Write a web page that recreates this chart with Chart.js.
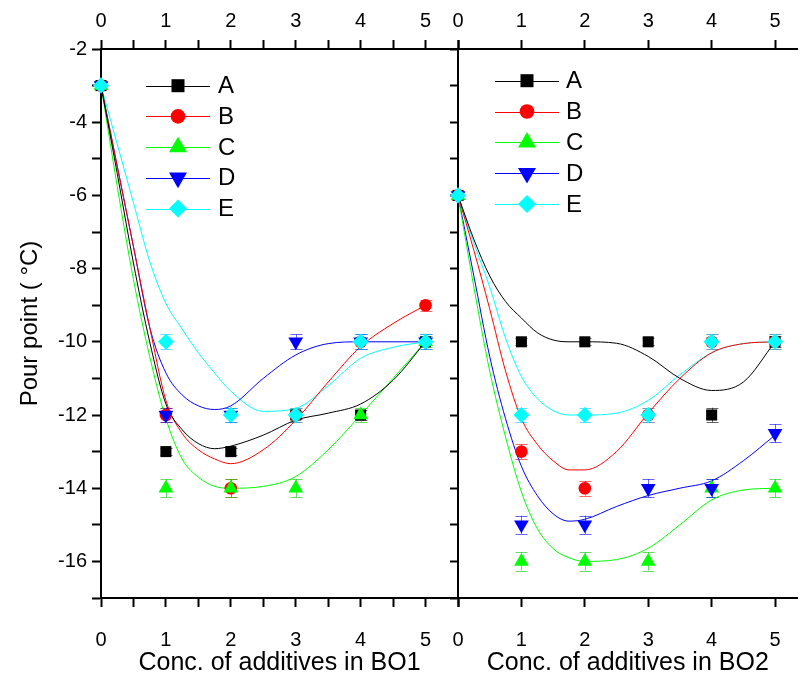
<!DOCTYPE html>
<html>
<head>
<meta charset="utf-8">
<script src="https://cdn.jsdelivr.net/npm/chart.js@4.4.0/dist/chart.umd.min.js"></script>
<style>
    body { margin: 0; background: #fff; width: 806px; height: 680px; overflow: hidden; position: relative; }
    #c1 { position: absolute; left: 0; top: 0; }
    #c2 { position: absolute; left: 448px; top: 0; }
</style>
</head>
<body>
<canvas id="c1" width="470" height="680" style="width:470px;height:680px"></canvas>
<canvas id="c2" width="358" height="680" style="width:358px;height:680px"></canvas>
<script>
// =======================
// Dados
// =======================
const seriesNames = ["A", "B", "C", "D", "E"];
const seriesColors = ["#000000", "#ff0000", "#00ff00", "#0000ff", "#00ffff"];
const errColors = ["rgba(0,0,0,0.6)", "rgba(255,0,0,0.6)", "rgba(0,200,0,0.6)", "rgba(0,0,255,0.6)", "rgba(0,200,255,0.6)"];

const conc = [0, 1, 2, 3, 4, 5];
const fitX = [0, 0.25, 0.5, 0.75, 1, 1.25, 1.5, 1.75, 2, 2.5, 3, 3.5, 4, 4.5, 5];

const xTicksBO1 = [0, 0.5, 1, 1.5, 2, 2.5, 3, 3.5, 4, 4.5, 5, 5.5];
const xTicksBO2 = [0, 1, 2, 3, 4, 5];
const yTicks = [-17, -16, -15, -14, -13, -12, -11, -10, -9, -8, -7, -6, -5, -4, -3, -2];

// BO1 - pontos medidos
const bo1A = [-3, -13, -13, -12, -12, -10];
const bo1B = [-3, -12, -14, -12, -10, -9];
const bo1C = [-3, -14, -14, -14, -12, -10];
const bo1D = [-3, -12, -12, -10, -10, -10];
const bo1E = [-3, -10, -12, -12, -10, -10];
// BO1 - barras de erro
const bo1ErrA = [0.1, 0.1, 0.1, 0.1, 0.15, 0.1];
const bo1ErrB = [0.1, 0.2, 0.25, 0.2, 0.2, 0.15];
const bo1ErrC = [0.1, 0.25, 0.25, 0.25, 0.2, 0.15];
const bo1ErrD = [0.1, 0.2, 0.2, 0.2, 0.2, 0.2];
const bo1ErrE = [0.1, 0.2, 0.2, 0.2, 0.2, 0.2];
// BO1 - curvas ajustadas
const bo1FitA = [-3, -5.4, -7.85, -10.0, -11.7, -12.4, -12.78, -12.92, -12.85, -12.55, -12.14, -11.95, -11.7, -11.05, -10];
const bo1FitB = [-3, -5.2, -7.4, -9.6, -11.6, -12.5, -12.95, -13.2, -13.33, -12.95, -12.14, -11.1, -10.13, -9.5, -9];
const bo1FitC = [-3, -5.75, -8.3, -10.4, -12.1, -13.2, -13.7, -13.95, -14.0, -13.95, -13.68, -12.95, -12, -11.0, -10];
const bo1FitD = [-3, -5.2, -7.4, -9.6, -10.85, -11.45, -11.75, -11.85, -11.75, -11.0, -10.36, -10.05, -10, -10, -10];
const bo1FitE = [-3, -4.6, -6.2, -7.8, -8.95, -9.65, -10.3, -10.85, -11.35, -11.9, -11.82, -11.2, -10.45, -10.15, -10];

// BO2 - pontos medidos
const bo2A = [-6, -10, -10, -10, -12, -10];
const bo2B = [-6, -13, -14, -12, -10, -10];
const bo2C = [-6, -16, -16, -16, -14, -14];
const bo2D = [-6, -15, -15, -14, -14, -12.5];
const bo2E = [-6, -12, -12, -12, -10, -10];
// BO2 - barras de erro
const bo2ErrA = [0.1, 0.1, 0.1, 0.1, 0.2, 0.15];
const bo2ErrB = [0.1, 0.2, 0.2, 0.2, 0.2, 0.2];
const bo2ErrC = [0.1, 0.25, 0.25, 0.25, 0.25, 0.25];
const bo2ErrD = [0.1, 0.25, 0.25, 0.25, 0.25, 0.25];
const bo2ErrE = [0.1, 0.2, 0.2, 0.2, 0.2, 0.2];
// BO2 - curvas ajustadas
const bo2FitA = [-6, -7.2, -8.2, -8.9, -9.35, -9.75, -9.95, -10.0, -10.0, -10.04, -10.4, -11.0, -11.33, -11.1, -10];
const bo2FitB = [-6, -7.5, -9.1, -10.8, -12.1, -12.8, -13.25, -13.5, -13.5, -13.0, -11.95, -11.0, -10.3, -10.05, -10];
const bo2FitC = [-6, -8.5, -10.8, -12.6, -14.1, -15.1, -15.65, -15.9, -16.0, -15.95, -15.64, -15.0, -14.32, -14.05, -14];
const bo2FitD = [-6, -8.2, -10.4, -12.1, -13.4, -14.2, -14.7, -14.9, -14.85, -14.5, -14.2, -14.0, -13.8, -13.25, -12.55];
const bo2FitE = [-6, -7.3, -8.5, -9.9, -10.95, -11.55, -11.88, -12.0, -12.0, -11.95, -11.6, -10.9, -10.3, -10.05, -10];

// =======================
// Estilos
// =======================
const FONT = "'Liberation Sans', Arial, sans-serif";
Chart.defaults.font.family = FONT;
Chart.defaults.color = "#000";

const markers = [
    { style: "rect", r: 7.8, lr: 9.2, rot: 0 },
    { style: "circle", r: 6.3, lr: 7.3, rot: 0 },
    { style: "triangle", r: 8.5, lr: 10.4, rot: 0 },
    { style: "triangle", r: 8.5, lr: 10.4, rot: 180 },
    { style: "rectRot", r: 8, lr: 9, rot: 0 }
];

function buildDatasets(points, errs, fits) {
    const ds = [];
    // curvas (ficam por baixo)
    fits.forEach((f, i) => {
        ds.push({
            label: seriesNames[i] + " fit",
            data: fitX.map((x, j) => ({ x: x, y: f[j] })),
            borderColor: seriesColors[i],
            borderWidth: 1,
            pointRadius: 0,
            cubicInterpolationMode: "monotone",
            fill: false,
            order: 20
        });
    });
    // pontos com marcador
    points.forEach((p, i) => {
        ds.push({
            label: seriesNames[i],
            data: conc.map((x, j) => ({ x: x, y: p[j] })),
            errors: errs[i],
            errColor: errColors[i],
            showLine: false,
            pointStyle: markers[i].style,
            pointRadius: markers[i].r,
            pointRotation: markers[i].rot,
            backgroundColor: seriesColors[i],
            borderColor: seriesColors[i],
            borderWidth: 0,
            clip: false,
            order: 5 - i
        });
    });
    return ds;
}

// barras de erro desenhadas com as escalas do Chart.js
const errorBars = {
    id: "errorBars",
    beforeDatasetsDraw(chart) {
        const ctx = chart.ctx;
        const y = chart.scales.y;
        ctx.save();
        ctx.lineWidth = 1;
        chart.data.datasets.forEach((ds, i) => {
            if (!ds.errors) return;
            const meta = chart.getDatasetMeta(i);
            ctx.strokeStyle = ds.errColor;
            meta.data.forEach((pt, j) => {
                const e = ds.errors[j];
                const v = ds.data[j].y;
                const top = y.getPixelForValue(v + e);
                const bot = y.getPixelForValue(v - e);
                const px = Math.round(pt.x) + 0.5;
                ctx.beginPath();
                ctx.moveTo(px, top); ctx.lineTo(px, bot);
                ctx.moveTo(px - 6, Math.round(top) + 0.5); ctx.lineTo(px + 6, Math.round(top) + 0.5);
                ctx.moveTo(px - 6, Math.round(bot) + 0.5); ctx.lineTo(px + 6, Math.round(bot) + 0.5);
                ctx.stroke();
            });
        });
        ctx.restore();
    }
};

// legenda no estilo do Origin (linha + marcador + letra)
const seriesLegend = {
    id: "seriesLegend",
    afterDraw(chart, args, opts) {
        const ctx = chart.ctx;
        ctx.save();
        ctx.font = "24px " + FONT;
        ctx.textBaseline = "middle";
        seriesNames.forEach((name, i) => {
            const yy = opts.y0 + i * opts.dy;
            ctx.strokeStyle = seriesColors[i];
            ctx.lineWidth = 1;
            ctx.beginPath();
            ctx.moveTo(opts.x1, Math.round(yy) + 0.5);
            ctx.lineTo(opts.x2, Math.round(yy) + 0.5);
            ctx.stroke();
            ctx.fillStyle = seriesColors[i];
            Chart.helpers.drawPoint(ctx, {
                pointStyle: markers[i].style,
                radius: markers[i].lr,
                rotation: markers[i].rot,
                borderWidth: 0
            }, (opts.x1 + opts.x2) / 2, yy);
            ctx.fillStyle = "#000";
            ctx.fillText(name, opts.tx, yy + 1);
        });
        ctx.restore();
    }
};

function xAxis(pos, ticksArr, max, title, h) {
    const axis = {
        type: "linear",
        position: pos,
        min: 0,
        max: max,
        afterBuildTicks: s => { s.ticks = ticksArr.map(v => ({ value: v })); },
        // altura fixa e sem o recuo lateral que o Chart.js põe por causa do padding
        afterFit: s => { s.height = h; s.paddingLeft = 0; s.paddingRight = 0; },
        ticks: {
            autoSkip: false,
            maxRotation: 0,
            padding: pos === "top" ? 7 : 21,
            font: { size: 20 },
            color: "#000",
            callback: v => Number.isInteger(v) ? String(v) : ""
        },
        grid: { drawOnChartArea: false, tickLength: 9, tickWidth: 2, color: "#000" },
        border: { color: "#000", width: 2 }
    };
    if (title) {
        axis.title = { display: true, text: title, font: { size: 25 }, color: "#000", padding: { top: 0, bottom: 2 } };
    }
    return axis;
}

// =======================
// Painel BO1
// =======================
new Chart(document.getElementById("c1"), {
    type: "line",
    data: {
        datasets: buildDatasets(
            [bo1A, bo1B, bo1C, bo1D, bo1E],
            [bo1ErrA, bo1ErrB, bo1ErrC, bo1ErrD, bo1ErrE],
            [bo1FitA, bo1FitB, bo1FitC, bo1FitD, bo1FitE]
        )
    },
    options: {
        responsive: false,
        animation: false,
        layout: { padding: { top: 0, right: 12, bottom: 0, left: 0 } },
        plugins: {
            legend: { display: false },
            tooltip: { enabled: false },
            seriesLegend: { x1: 146, x2: 210, tx: 218, y0: 85.7, dy: 30.7 }
        },
        scales: {
            x: xAxis("bottom", xTicksBO1, 5.5, "Conc. of additives in BO1", 82),
            x2: xAxis("top", xTicksBO1, 5.5, null, 49),
            y: {
                type: "linear",
                position: "left",
                min: -17,
                max: -2,
                afterBuildTicks: s => { s.ticks = yTicks.map(v => ({ value: v })); },
                afterFit: s => { s.width = 101; s.paddingTop = 0; s.paddingBottom = 0; },
                ticks: {
                    padding: 5,
                    font: { size: 20 },
                    color: "#000",
                    callback: v => (v % 2 === 0) ? String(v) : ""
                },
                grid: { drawOnChartArea: false, tickLength: 9, tickWidth: 2, color: "#000" },
                border: { color: "#000", width: 2 },
                title: { display: true, text: "Pour point ( °C)", font: { size: 24 }, color: "#000", padding: { top: 16, bottom: 0 } }
            }
        }
    },
    plugins: [errorBars, seriesLegend]
});

// =======================
// Painel BO2
// =======================
new Chart(document.getElementById("c2"), {
    type: "line",
    data: {
        datasets: buildDatasets(
            [bo2A, bo2B, bo2C, bo2D, bo2E],
            [bo2ErrA, bo2ErrB, bo2ErrC, bo2ErrD, bo2ErrE],
            [bo2FitA, bo2FitB, bo2FitC, bo2FitD, bo2FitE]
        )
    },
    options: {
        responsive: false,
        animation: false,
        layout: { padding: 0 },
        plugins: {
            legend: { display: false },
            tooltip: { enabled: false },
            seriesLegend: { x1: 47, x2: 111, tx: 118, y0: 80.7, dy: 30.8 }
        },
        scales: {
            x: xAxis("bottom", xTicksBO2, 5.354, "Conc. of additives in BO2", 82),
            x2: xAxis("top", xTicksBO2, 5.354, null, 49),
            y: {
                type: "linear",
                position: "left",
                min: -17,
                max: -2,
                afterBuildTicks: s => { s.ticks = yTicks.map(v => ({ value: v })); },
                afterFit: s => { s.width = 10; s.paddingTop = 0; s.paddingBottom = 0; },
                ticks: { display: false },
                grid: { drawOnChartArea: false, tickLength: 8, tickWidth: 2, color: "#000" },
                border: { color: "#000", width: 2 }
            }
        }
    },
    plugins: [errorBars, seriesLegend]
});
</script>
</body>
</html>
